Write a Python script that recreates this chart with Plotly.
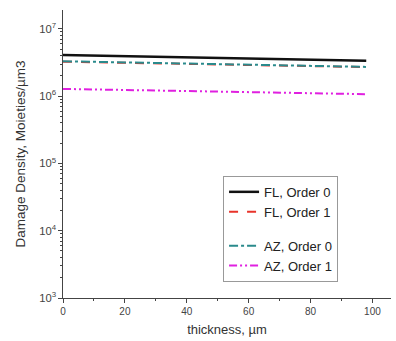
import plotly.graph_objects as go

# thickness samples (µm)
thickness = [0, 20, 40, 60, 80, 98]

# damage density (moieties / µm^3)
fl_order0 = [4.1e6, 3.95e6, 3.8e6, 3.65e6, 3.5e6, 3.35e6]
fl_order1 = [3.25e6, 3.12e6, 3.0e6, 2.9e6, 2.8e6, 2.7e6]
az_order0 = [3.3e6, 3.17e6, 3.05e6, 2.93e6, 2.82e6, 2.72e6]
az_order1 = [1.28e6, 1.24e6, 1.19e6, 1.15e6, 1.11e6, 1.07e6]

series = [
    ("FL, Order 0", fl_order0, "#111111", "solid", "g1"),
    ("FL, Order 1", fl_order1, "#e8332a", "dash", "g1"),
    ("AZ, Order 0", az_order0, "#2a8a8c", "dashdot", "g2"),
    ("AZ, Order 1", az_order1, "#e020e0", "8px,3px,2px,3px,2px,3px", "g2"),
]

fig = go.Figure()
for name, vals, color, dash, grp in series:
    fig.add_trace(go.Scatter(
        x=thickness, y=vals, mode="lines", name=name, legendgroup=grp,
        line=dict(color=color, width=2.5 if dash == "solid" else 2, dash=dash),
    ))

axis_font = dict(family="Liberation Sans, Arial, sans-serif", size=12, color="#333")
fig.update_layout(
    width=396, height=341,
    margin=dict(l=63, r=5, t=10, b=43),
    paper_bgcolor="white", plot_bgcolor="white",
    font=axis_font,
    showlegend=True,
    legend=dict(
        x=0.488, y=0.424, xanchor="left", yanchor="top",
        bordercolor="#999", borderwidth=1, bgcolor="white",
        font=dict(family="Liberation Sans, Arial, sans-serif", size=13, color="#222"),
        traceorder="grouped", tracegroupgap=14,
        itemwidth=30,
    ),
    xaxis=dict(
        range=[0, 106], tickmode="linear", tick0=0, dtick=20,
        showline=True, linecolor="#444", linewidth=1,
        ticks="outside", ticklen=4, tickcolor="#444",
        minor=dict(dtick=10, ticks="outside", ticklen=2, tickcolor="#444"),
        showgrid=False, zeroline=False,
        tickfont=dict(size=10, color="#444"),
        title=dict(text="thickness, µm", font=dict(size=13, color="#333"), standoff=8),
    ),
    yaxis=dict(
        type="log", range=[3, 7.28], dtick=1,
        exponentformat="power", showexponent="all",
        showline=True, linecolor="#444", linewidth=1,
        ticks="outside", ticklen=4, tickcolor="#444",
        minor=dict(dtick="D1", ticks="outside", ticklen=2, tickcolor="#444"),
        showgrid=False, zeroline=False,
        tickfont=dict(size=9, color="#444"),
        title=dict(text="Damage Density, Moieties/µm3", font=dict(size=13.5, color="#333"), standoff=10),
    ),
)

fig.write_html("out.html")
